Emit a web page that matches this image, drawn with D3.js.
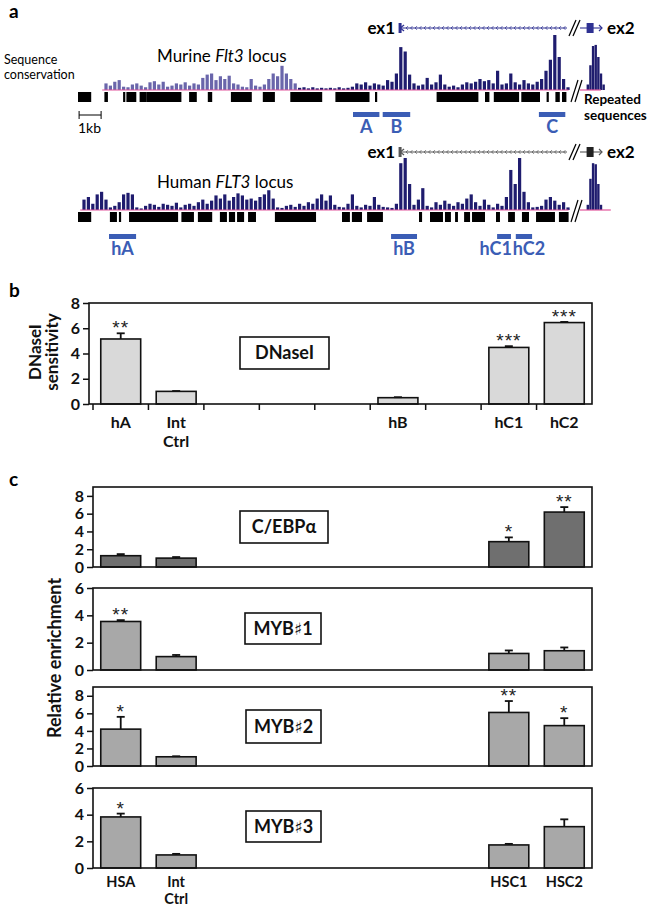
<!DOCTYPE html>
<html><head><meta charset="utf-8">
<script src="https://cdn.jsdelivr.net/npm/d3@7"></script>
<style>body{margin:0;background:#fff} svg{display:block}</style>
</head><body>
<svg id="fig" width="661" height="907"></svg>
<script>
// ---------------- DATA ----------------
// Panel a: genomic coordinates in kb (1 kb scale bar)
const murineRepeats = [[0,0.6],[1.2,1.36],[2.05,2.15],[2.2,2.65],[2.8,3.1],[3.1,4.7],[5.05,5.4],[5.9,6.1],[6.95,7.9],[8.4,8.95],[9.65,11.1],[11.7,13.25],[13.5,13.6],[16.3,18.2],[18.5,18.7],[18.9,20.05],[20.15,21.0],[21.3,21.4],[21.7,21.9],[22.0,22.2]];
const murineConsStart = 1.2, consStep = 0.2;
const murineCons = [0.12,0.08,0.15,0.18,0.06,0.05,0.1,0.12,0.08,0.05,0.14,0.16,0.1,0.15,0.06,0.08,0.12,0.1,0.14,0.08,0.12,0.1,0.22,0.28,0.3,0.18,0.25,0.2,0.26,0.12,0.1,0.06,0.05,0.2,0.08,0.06,0.1,0.2,0.3,0.25,0.44,0.3,0.2,0.12,0.04,0.05,0.03,0.05,0.03,0.04,0.03,0.04,0.03,0.05,0.03,0.04,0.06,0.12,0.1,0.14,0.08,0.12,0.1,0.08,0.18,0.15,0.3,0.78,0.7,0.28,0.12,0.08,0.1,0.22,0.1,0.14,0.28,0.1,0.06,0.08,0.05,0.1,0.14,0.12,0.15,0.2,0.16,0.18,0.12,0.35,0.1,0.12,0.3,0.14,0.1,0.18,0.12,0.1,0.15,0.2,0.35,0.55,1.0,0.6,0.2,0.05];
const murineEx2Cons = [0.1,0.45,0.8,0.82,0.6,0.3,0.1];
const murineExon1 = 14.64, murineGeneEnd = 22.23;
const regionNamesM = ["A","B","C"];
const regionStartM = [12.5,13.85,20.95];
const regionEndM = [13.7,15.1,22.15];

const humanRepeats = [[0,0.6],[1.45,1.77],[1.86,1.96],[2.32,4.55],[4.7,5.27],[5.45,6.1],[6.45,6.77],[6.86,7.14],[7.23,7.55],[7.73,8.09],[8.95,10.82],[12.0,12.36],[12.45,12.91],[13.14,13.86],[15.5,15.64],[16.0,16.59],[16.68,16.95],[17.14,17.27],[17.55,17.82],[17.91,18.5],[19.0,19.18],[19.55,19.86],[20.18,20.5],[20.82,21.68],[21.86,22.3]];
const humanConsStart = 0.2;
const humanCons = [0.2,0.25,0.12,0.3,0.35,0.2,0.05,0.08,0.15,0.3,0.33,0.3,0.05,0.03,0.08,0.12,0.1,0.06,0.12,0.1,0.08,0.14,0.05,0.1,0.12,0.08,0.15,0.2,0.12,0.18,0.28,0.22,0.3,0.18,0.25,0.32,0.28,0.2,0.22,0.18,0.25,0.3,0.38,0.22,0.05,0.04,0.08,0.1,0.06,0.12,0.08,0.15,0.12,0.22,0.3,0.18,0.28,0.1,0.06,0.05,0.12,0.3,0.08,0.05,0.1,0.08,0.25,0.1,0.06,0.05,0.04,0.12,0.9,1.0,0.5,0.1,0.2,0.42,0.08,0.05,0.15,0.1,0.18,0.12,0.08,0.15,0.12,0.22,0.3,0.15,0.08,0.2,0.1,0.05,0.12,0.08,0.25,0.77,0.5,1.0,0.35,0.15,0.05,0.06,0.08,0.2,0.25,0.18,0.1,0.15,0.05];
const humanEx2Cons = [0.1,0.6,0.9,0.88,0.5,0.1];
const humanExon1 = 14.64, humanGeneEnd = 22.23;
const regionNamesH = ["hA","hB","hC1","hC2"];
const regionStartH = [1.41,14.23,19.05,19.9];
const regionEndH = [2.64,15.41,19.68,20.64];

// Panel b
const bCategories = ["hA","Int Ctrl","g1","g2","g3","hB","g4","hC1","hC2"];
const bLabels = [["hA"],["Int","Ctrl"],[],[],[],["hB"],[],["hC1"],["hC2"]];
const bBars = ["hA","Int Ctrl","hB","hC1","hC2"];
const bValues = [5.15,1.0,0.5,4.48,6.45];
const bErrors = [0.45,0.03,0.04,0.1,0.05];
const bStars = ["**","","","***","***"];
const bTicks = [0,2,4,6,8];

// Panel c
const cCategories = ["HSA","Int Ctrl","g1","g2","g3","g4","g5","HSC1","HSC2"];
const cLabels = [["HSA"],["Int","Ctrl"],[],[],[],[],[],["HSC1"],["HSC2"]];
const cBars = ["HSA","Int Ctrl","HSC1","HSC2"];
const cebpValues = [1.27,1.0,2.85,6.18];
const cebpErrors = [0.18,0.12,0.48,0.56];
const cebpStars = ["","","*","**"];
const myb1Values = [3.55,0.98,1.21,1.41];
const myb1Errors = [0.1,0.12,0.22,0.24];
const myb1Stars = ["**","","",""];
const myb2Values = [4.2,1.05,6.1,4.6];
const myb2Errors = [1.4,0.06,1.3,0.85];
const myb2Stars = ["*","","**","*"];
const myb3Values = [3.83,0.98,1.73,3.1];
const myb3Errors = [0.25,0.08,0.08,0.55];
const myb3Stars = ["*","","",""];
const cTicks9 = [0,2,4,6,8];
const cTicks6 = [0,2,4,6];

// ---------------- DRAW ----------------
const svg = d3.select("#fig");
const FONT = "Lato, 'Open Sans', sans-serif";
const NAVY = "#1f1c6e", LAV = "#6a66ab", PINK = "#e2559b", BLUE = "#3b5db5";

svg.append("text").attr("x",9).attr("y",18).attr("font-family",FONT).attr("font-weight",700).attr("font-size",19).text("a");
svg.append("text").attr("x",9).attr("y",297).attr("font-family",FONT).attr("font-weight",700).attr("font-size",19).text("b");
svg.append("text").attr("x",9).attr("y",486).attr("font-family",FONT).attr("font-weight",700).attr("font-size",19).text("c");

function locus(cfg){
  const g = svg.append("g");
  const x = d3.scaleLinear().domain([0,22.4]).range([78,78+22.4*22]);
  const xp = d3.scaleLinear().domain([0,1.5]).range([580,613]);
  const y = d3.scaleLinear().domain([0,1]).range([cfg.base, cfg.base-cfg.maxH]);
  g.selectAll("rect.cons").data(cfg.cons).join("rect")
    .attr("x",(d,i)=>x(cfg.consStart+i*consStep)).attr("width",3.2)
    .attr("y",d=>y(d)).attr("height",d=>y(0)-y(d))
    .attr("fill",(d,i)=>(cfg.consStart+i*consStep)<cfg.lightUntil ? LAV : NAVY);
  g.selectAll("rect.cons2").data(cfg.ex2Cons).join("rect")
    .attr("x",(d,i)=>xp(0.3+i*0.12)).attr("width",2.4)
    .attr("y",d=>y(d)).attr("height",d=>y(0)-y(d)).attr("fill",NAVY);
  g.append("line").attr("x1",x(cfg.consStart-0.1)).attr("x2",x(22.3)).attr("y1",cfg.base).attr("y2",cfg.base).attr("stroke",PINK).attr("stroke-width",1.2);
  g.append("line").attr("x1",xp(0)).attr("x2",xp(cfg.postEnd)).attr("y1",cfg.base).attr("y2",cfg.base).attr("stroke",PINK).attr("stroke-width",1.2);
  g.selectAll("rect.rep").data(cfg.repeats).join("rect")
    .attr("x",d=>x(d[0])).attr("width",d=>Math.max(1.2,x(d[1])-x(d[0])))
    .attr("y",cfg.base+2).attr("height",10).attr("fill","#000");
  [0,4].forEach(o=>{
    g.append("line").attr("x1",571+o).attr("x2",578+o).attr("y1",cfg.base+12).attr("y2",cfg.base-10).attr("stroke","#000").attr("stroke-width",1.2);
  });
  const gy = cfg.geneY;
  g.append("line").attr("x1",x(cfg.exon1)).attr("x2",x(cfg.geneEnd)).attr("y1",gy).attr("y2",gy).attr("stroke",cfg.geneColor).attr("stroke-width",1.1);
  const chev = d3.range(x(cfg.exon1)+6, x(cfg.geneEnd)-2, 4.5);
  g.selectAll("path.chev").data(chev).join("path")
    .attr("d",d=>`M${d+1.8},${gy-1.8}L${d},${gy}L${d+1.8},${gy+1.8}`).attr("fill","none").attr("stroke",cfg.geneColor).attr("stroke-width",0.8);
  g.append("rect").attr("x",x(cfg.exon1)-1.5).attr("y",gy-5).attr("width",3).attr("height",10).attr("fill",cfg.geneColor);
  g.append("path").attr("d",`M${x(cfg.exon1)+4},${gy-3}L${x(cfg.exon1)},${gy}L${x(cfg.exon1)+4},${gy+3}`).attr("fill","none").attr("stroke",cfg.geneColor).attr("stroke-width",1.2);
  [0,4].forEach(o=>{
    g.append("line").attr("x1",569+o).attr("x2",576+o).attr("y1",gy+8).attr("y2",gy-8).attr("stroke","#000").attr("stroke-width",1.2);
  });
  g.append("line").attr("x1",xp(0)).attr("x2",xp(1.0)).attr("y1",gy).attr("y2",gy).attr("stroke",cfg.geneColor).attr("stroke-width",1.1);
  g.append("rect").attr("x",xp(0.3)).attr("y",gy-5).attr("width",7).attr("height",10).attr("fill",cfg.ex2Color);
  g.append("path").attr("d",`M${xp(1.0)-3},${gy-3}L${xp(1.0)},${gy}L${xp(1.0)-3},${gy+3}`).attr("fill","none").attr("stroke",cfg.geneColor).attr("stroke-width",1.2);
  g.append("text").attr("x",x(cfg.exon1)-5).attr("y",gy+6).attr("text-anchor","end").attr("font-family",FONT).attr("font-weight",700).attr("font-size",17).text("ex1");
  g.append("text").attr("x",607).attr("y",gy+6).attr("font-family",FONT).attr("font-weight",700).attr("font-size",17).text("ex2");
  g.selectAll("rect.reg").data(cfg.regNames).join("rect")
    .attr("x",(d,i)=>x(cfg.regStart[i])).attr("width",(d,i)=>x(cfg.regEnd[i])-x(cfg.regStart[i]))
    .attr("y",cfg.regY).attr("height",5).attr("fill",BLUE);
  g.selectAll("text.reg").data(cfg.regNames).join("text")
    .attr("x",(d,i)=>{const a=cfg.regAnchor[i]; return a==="end"?x(cfg.regEnd[i])+1:a==="start"?x(cfg.regStart[i])-3:(x(cfg.regStart[i])+x(cfg.regEnd[i]))/2;})
    .attr("text-anchor",(d,i)=>cfg.regAnchor[i]).attr("y",cfg.regY+21)
    .attr("font-family",FONT).attr("font-weight",700).attr("font-size",18).attr("fill",BLUE).text(d=>d);
  const t = g.append("text").attr("x",157).attr("y",cfg.titleY).attr("font-family",FONT).attr("font-size",17);
  t.append("tspan").text(cfg.title[0]+" ");
  t.append("tspan").attr("font-style","italic").text(cfg.title[1]);
  t.append("tspan").text(" locus");
  return x;
}

const xM = locus({cons:murineCons, consStart:murineConsStart, ex2Cons:murineEx2Cons, base:90, maxH:55, repeats:murineRepeats, lightUntil:9.9,
  geneY:28, exon1:murineExon1, geneEnd:murineGeneEnd, geneColor:"#2e3192", ex2Color:"#2e3192", postEnd:0.95,
  regNames:regionNamesM, regStart:regionStartM, regEnd:regionEndM, regAnchor:["middle","middle","middle"], regY:112, title:["Murine","Flt3"], titleY:62});
locus({cons:humanCons, consStart:humanConsStart, ex2Cons:humanEx2Cons, base:210, maxH:52, repeats:humanRepeats, lightUntil:-1,
  geneY:152, exon1:humanExon1, geneEnd:humanGeneEnd, geneColor:"#555", ex2Color:"#222", postEnd:1.4,
  regNames:regionNamesH, regStart:regionStartH, regEnd:regionEndH, regAnchor:["middle","middle","end","start"], regY:234, title:["Human","FLT3"], titleY:188});

// side texts
svg.append("text").attr("x",4).attr("y",64).attr("font-family",FONT).attr("font-size",12.5).text("Sequence");
svg.append("text").attr("x",4).attr("y",79).attr("font-family",FONT).attr("font-size",12.5).text("conservation");
svg.append("text").attr("x",584).attr("y",104).attr("font-family",FONT).attr("font-weight",700).attr("font-size",13.5).text("Repeated");
svg.append("text").attr("x",584).attr("y",120).attr("font-family",FONT).attr("font-weight",700).attr("font-size",13.5).text("sequences");
svg.append("line").attr("x1",xM(0.05)).attr("x2",xM(1.05)).attr("y1",115).attr("y2",115).attr("stroke","#000");
[0.05,1.05].forEach(k=>svg.append("line").attr("x1",xM(k)).attr("x2",xM(k)).attr("y1",111).attr("y2",119).attr("stroke","#000"));
svg.append("text").attr("x",78).attr("y",133).attr("font-family",FONT).attr("font-size",14).text("1kb");

// ---------- bar panel helper ----------
function barPanel(o){
  const g = svg.append("g");
  const x = d3.scaleBand().domain(o.categories).range([o.x0,o.x1]).paddingInner(0.28).paddingOuter(0.14);
  const y = d3.scaleLinear().domain([0,o.ymax]).range([o.bottom,o.top]);
  g.selectAll("rect.bar").data(o.bars).join("rect")
    .attr("x",d=>x(d)).attr("width",x.bandwidth())
    .attr("y",(d,i)=>y(o.values[i])).attr("height",(d,i)=>y(0)-y(o.values[i]))
    .attr("fill",o.fill).attr("stroke","#111").attr("stroke-width",1.6);
  o.bars.forEach((d,i)=>{
    const cx = x(d)+x.bandwidth()/2, y0=y(o.values[i]), y1=y(o.values[i]+o.errors[i]);
    g.append("line").attr("x1",cx).attr("x2",cx).attr("y1",y0).attr("y2",y1).attr("stroke","#111").attr("stroke-width",1.8);
    g.append("line").attr("x1",cx-4).attr("x2",cx+4).attr("y1",y1).attr("y2",y1).attr("stroke","#111").attr("stroke-width",1.8);
    if(o.stars[i]) g.append("text").attr("x",cx).attr("y",y1+1).attr("text-anchor","middle")
      .attr("font-family","'Liberation Sans', Arial, sans-serif").attr("font-size",19).attr("letter-spacing",1).attr("fill","#222").text(o.stars[i]);
  });
  g.append("rect").attr("x",o.frameLeft).attr("y",o.top).attr("width",o.x1-o.frameLeft).attr("height",o.bottom-o.top)
    .attr("fill","none").attr("stroke","#111").attr("stroke-width",1.6);
  const ya = g.append("g").attr("transform",`translate(${o.frameLeft},0)`)
    .call(d3.axisLeft(y).tickValues(o.ticks).tickSize(6).tickPadding(3).tickFormat(d3.format("d")));
  ya.select(".domain").remove();
  ya.selectAll("line").attr("stroke","#111").attr("stroke-width",1.5);
  ya.selectAll("text").attr("font-family",FONT).attr("font-weight",700).attr("font-size",16).attr("fill","#111");
  if(o.xticks){
    const step = x.step();
    d3.range(0,o.categories.length).forEach(k=>{
      const xx = o.x0 + k*step;
      g.append("line").attr("x1",xx).attr("x2",xx).attr("y1",o.bottom).attr("y2",o.bottom+6).attr("stroke","#111").attr("stroke-width",1.5);
    });
  }
  if(o.labels){
    o.categories.forEach((c,i)=>{
      o.labels[i].forEach((t,j)=>{
        g.append("text").attr("x",x(c)+x.bandwidth()/2).attr("y",o.bottom+o.labelDy+j*o.labelLine).attr("text-anchor","middle")
          .attr("font-family",FONT).attr("font-weight",700).attr("font-size",o.labelSize).attr("fill","#111").text(t);
      });
    });
  }
  g.append("rect").attr("x",o.boxX).attr("y",o.boxY).attr("width",o.boxW).attr("height",o.boxH).attr("fill","#fff").attr("stroke","#111").attr("stroke-width",1.6);
  const bt = g.append("text").attr("x",o.boxX+o.boxW/2).attr("y",o.boxY+o.boxH/2+6).attr("text-anchor","middle")
    .attr("font-family",FONT).attr("font-weight",700).attr("font-size",18).attr("fill","#111");
  o.boxText.forEach((s,k)=>{ const ts = bt.append("tspan").text(s); if(k===1) ts.attr("font-family","'DejaVu Sans', sans-serif").attr("font-size",17); });
}

barPanel({categories:bCategories, bars:bBars, values:bValues, errors:bErrors, stars:bStars, ticks:bTicks, ymax:8,
  x0:93, x1:592, frameLeft:89, top:303, bottom:404, fill:"#d9d9d9", xticks:true, labels:bLabels, labelDy:24, labelLine:19, labelSize:16,
  boxX:240, boxY:337, boxW:89, boxH:32, boxText:["DNaseI"]});

barPanel({categories:cCategories, bars:cBars, values:cebpValues, errors:cebpErrors, stars:cebpStars, ticks:cTicks9, ymax:9,
  x0:93, x1:592, frameLeft:93, top:487, bottom:567, fill:"#6f6f6f", xticks:false,
  boxX:240, boxY:511, boxW:88, boxH:32, boxText:["C/EBPα"]});
barPanel({categories:cCategories, bars:cBars, values:myb1Values, errors:myb1Errors, stars:myb1Stars, ticks:cTicks6, ymax:6,
  x0:93, x1:592, frameLeft:93, top:588, bottom:670, fill:"#a8a8a8", xticks:false,
  boxX:245, boxY:613, boxW:76, boxH:31, boxText:["MYB","♯","1"]});
barPanel({categories:cCategories, bars:cBars, values:myb2Values, errors:myb2Errors, stars:myb2Stars, ticks:cTicks9, ymax:9,
  x0:93, x1:592, frameLeft:93, top:687, bottom:766, fill:"#a8a8a8", xticks:false,
  boxX:246, boxY:710, boxW:75, boxH:33, boxText:["MYB","♯","2"]});
barPanel({categories:cCategories, bars:cBars, values:myb3Values, errors:myb3Errors, stars:myb3Stars, ticks:cTicks6, ymax:6,
  x0:93, x1:592, frameLeft:93, top:788, bottom:868, fill:"#a8a8a8", xticks:false, labels:cLabels, labelDy:19, labelLine:17, labelSize:14.5,
  boxX:246, boxY:811, boxW:75, boxH:31, boxText:["MYB","♯","3"]});

// y-axis titles
svg.append("text").attr("transform","translate(41,352) rotate(-90)").attr("text-anchor","middle")
  .attr("font-family",FONT).attr("font-weight",700).attr("font-size",17).attr("fill","#111").text("DNaseI");
svg.append("text").attr("transform","translate(58,352) rotate(-90)").attr("text-anchor","middle")
  .attr("font-family",FONT).attr("font-weight",700).attr("font-size",17).attr("fill","#111").text("sensitivity");
svg.append("text").attr("transform","translate(61,658) rotate(-90)").attr("text-anchor","middle")
  .attr("font-family",FONT).attr("font-weight",700).attr("font-size",18).attr("fill","#111").text("Relative enrichment");
</script>
</body></html>
